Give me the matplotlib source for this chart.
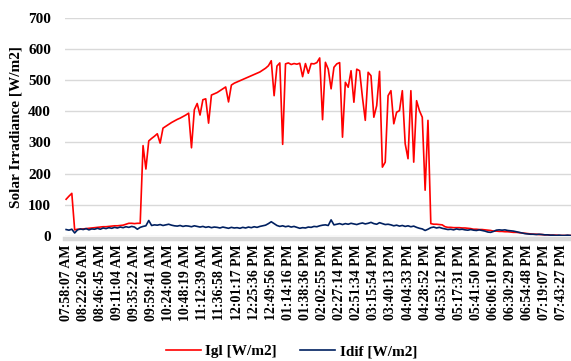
import matplotlib
matplotlib.use("Agg")
import matplotlib.pyplot as plt

plt.rcParams['font.family'] = ['Liberation Serif', 'DejaVu Serif']
plt.rcParams['font.weight'] = 'bold'

# time stamps shown on the category axis (one every 6 samples)
tick_labels = ["07:58:07 AM", "08:22:26 AM", "08:46:45 AM", "09:11:04 AM", "09:35:22 AM",
               "09:59:41 AM", "10:24:00 AM", "10:48:19 AM", "11:12:39 AM", "11:36:58 AM",
               "12:01:17 PM", "12:25:36 PM", "12:49:56 PM", "01:14:16 PM", "01:38:36 PM",
               "02:02:55 PM", "02:27:14 PM", "02:51:34 PM", "03:15:54 PM", "03:40:13 PM",
               "04:04:33 PM", "04:28:52 PM", "04:53:12 PM", "05:17:31 PM", "05:41:50 PM",
               "06:06:10 PM", "06:30:29 PM", "06:54:48 PM", "07:19:07 PM", "07:43:27 PM"]
samples_per_tick = 6

# global irradiance [W/m2]
igl = [118, 128, 137, 20, 22, 22, 23, 24, 25, 26,
       27, 28, 29, 30, 30, 31, 32, 33, 33, 34,
       35, 38, 41, 41, 40, 41, 41, 290, 215, 305,
       313, 320, 328, 298, 346, 352, 358, 364, 369, 374,
       378, 383, 388, 394, 283, 405, 425, 388, 437, 440,
       362, 452, 456, 460, 466, 472, 478, 430, 484, 490,
       494, 498, 502, 506, 510, 514, 518, 522, 526, 532,
       538, 546, 562, 450, 545, 555, 294, 552, 555, 550,
       553, 551, 554, 511, 553, 522, 553, 552, 556, 571,
       373, 557, 535, 472, 541, 552, 556, 317, 493, 477,
       530, 429, 535, 530, 445, 371, 525, 514, 381, 418,
       528, 221, 237, 450, 466, 360, 397, 402, 466, 296,
       248, 466, 237, 434, 402, 381, 147, 371, 40, 38,
       38, 37, 36, 30, 28, 28, 27, 27, 27, 26,
       26, 25, 24, 22, 22, 21, 21, 20, 19, 18,
       16, 16, 15, 15, 14, 14, 13, 12, 12, 11,
       10, 9, 8, 7, 6, 6, 5, 5, 4, 4,
       3, 3, 3, 2, 2, 2, 2, 2]

# diffuse irradiance [W/m2]
idif = [21, 19, 22, 10, 20, 23, 21, 24, 20, 23,
        22, 25, 22, 26, 24, 27, 25, 28, 26, 29,
        27, 30, 28, 31, 29, 22, 28, 31, 33, 50,
        34, 36, 35, 37, 34, 36, 38, 35, 33, 32,
        34, 31, 33, 32, 30, 33, 31, 29, 31, 28,
        30, 27, 29, 28, 26, 29, 27, 25, 28, 26,
        27, 25, 28, 26, 29, 27, 30, 28, 31, 33,
        35, 40, 46, 40, 34, 31, 33, 30, 32, 29,
        31, 28, 25, 27, 26, 29, 28, 31, 30, 33,
        35, 36, 34, 52, 36, 38, 40, 37, 40, 38,
        41, 39, 37, 40, 42, 39, 41, 44, 40, 38,
        43, 40, 37, 38, 36, 33, 35, 32, 34, 31,
        33, 30, 32, 28, 25, 23, 18, 22, 27, 29,
        26, 28, 25, 23, 21, 22, 20, 23, 21, 22,
        20, 19, 21, 19, 18, 20, 18, 16, 13, 12,
        15, 19, 20, 19, 20, 18, 17, 16, 14, 12,
        10, 8, 7, 6, 6, 5, 6, 5, 4, 4,
        3, 3, 2, 3, 2, 2, 3, 2]

x = list(range(len(igl)))

fig = plt.figure(figsize=(5.71, 3.61), dpi=100)
ax = fig.add_axes([0.1138, 0.346, 0.8862, 0.605])

ax.plot(x, igl, color='#ff0000', lw=1.2, label='Igl [W/m2]', zorder=3)
ax.plot(x, idif, color='#002060', lw=1.2, label='Idif [W/m2]', zorder=4)

ax.set_xlim(-0.4, len(igl) - 0.8)
ax.set_ylim(0, 700)
ax.set_yticks(range(0, 701, 100))
ax.set_xticks(range(0, len(tick_labels) * samples_per_tick, samples_per_tick))
ax.set_xticklabels(tick_labels, fontsize=11, fontweight='bold')
ax.tick_params(axis='y', labelsize=11, length=0, pad=10)
ax.tick_params(axis='x', length=0, pad=4, labelrotation=90)

ax.grid(axis='y', color='#d9d9d9', lw=1.0)
ax.set_axisbelow(True)
for s in ['top', 'right', 'left']:
    ax.spines[s].set_visible(False)
ax.spines['bottom'].set_color('#d9d9d9')
ax.spines['bottom'].set_linewidth(3.2)
ax.spines['bottom'].set_position(('outward', 2))

ax.set_ylabel('Solar Irradiance [W/m2]', fontsize=11, fontweight='bold', labelpad=4)

fig.legend(loc='lower center', bbox_to_anchor=(0.51, -0.03), ncol=2, frameon=False,
           fontsize=11, handlelength=2.3, columnspacing=1.5, handletextpad=0.3)

fig.savefig('out.png', dpi=100)
